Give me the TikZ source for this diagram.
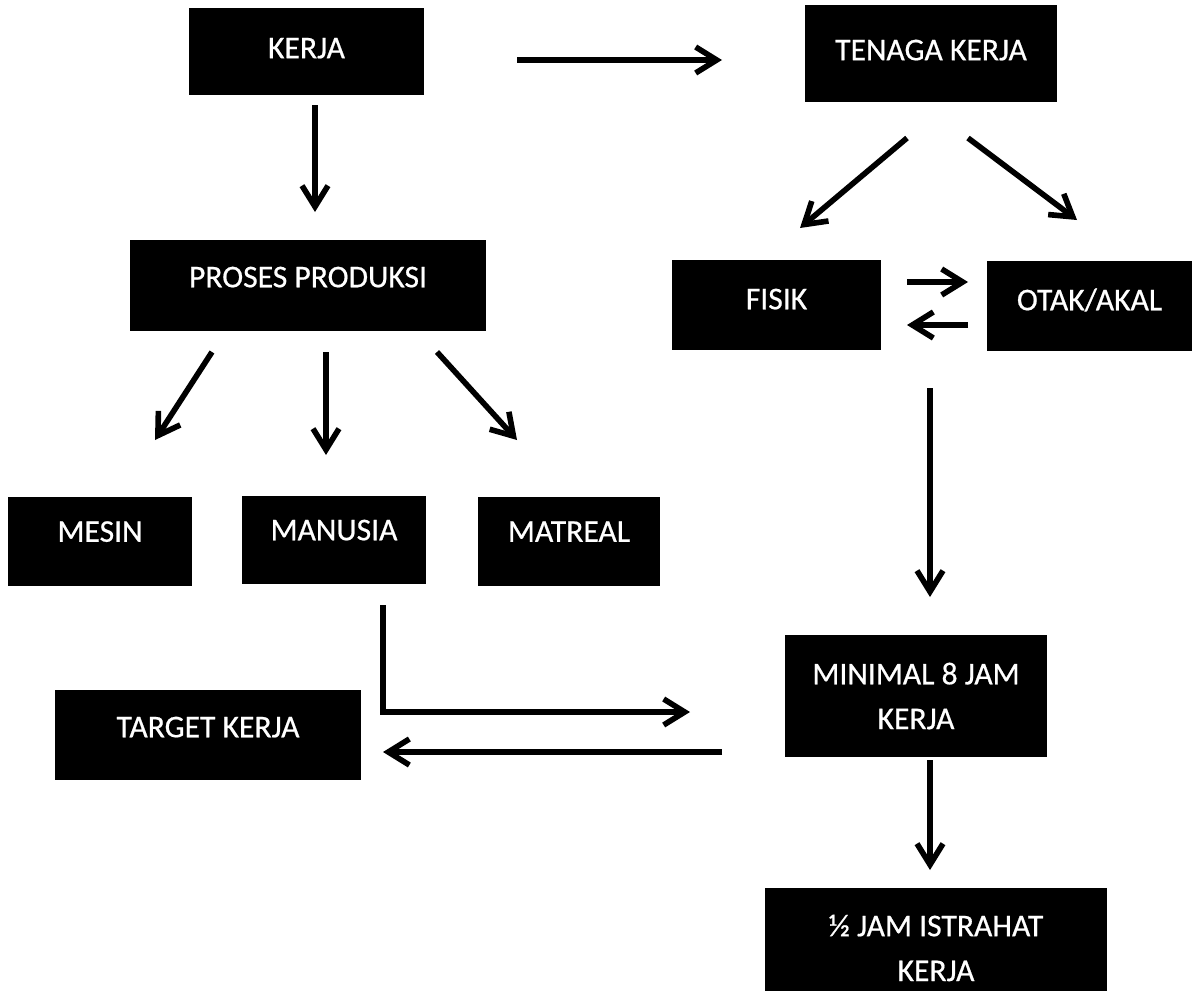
\documentclass[tikz,border=0pt]{standalone}
\usepackage{fontspec}
\setmainfont{Carlito}
\newfontface\boxfont{Carlito}[FakeBold=0.6]
\usetikzlibrary{arrows.meta}
\begin{document}
\begin{tikzpicture}[x=0.02cm,y=-0.02cm,
  box/.style={fill=black,text=white,inner sep=0pt,font=\boxfont\fontsize{18}{25.5}\selectfont},
  up/.style={text height=0.41cm,text depth=#1},
  arr/.style={line width=3.2pt,-{Straight Barb[length=0.42cm,width=0.52cm,line width=3.2pt]}}]
\clip (0,0) rectangle (1192,990);
\fill[white] (0,0) rectangle (1192,990);
% boxes
\node[box,up=0.14cm,minimum width=4.70cm,minimum height=1.74cm] (kerja) at (306.5,51.5) {KERJA};
\node[box,up=0.14cm,minimum width=5.04cm,minimum height=1.94cm] (tenaga) at (931,53.5) {TENAGA KERJA};
\node[box,up=0.34cm,minimum width=7.12cm,minimum height=1.82cm] (proses) at (308,285.5) {PROSES PRODUKSI};
\node[box,up=0.24cm,minimum width=4.18cm,minimum height=1.80cm] (fisik) at (776.5,305) {FISIK};
\node[box,up=0.24cm,minimum width=4.10cm,minimum height=1.80cm] (otak) at (1089.5,306) {OTAK/AKAL};
\node[box,up=0.40cm,minimum width=3.68cm,minimum height=1.78cm] (mesin) at (100,541.5) {MESIN};
\node[box,up=0.40cm,minimum width=3.68cm,minimum height=1.76cm] (manusia) at (334,540) {MANUSIA};
\node[box,up=0.40cm,minimum width=3.64cm,minimum height=1.78cm] (matreal) at (569,541.5) {MATREAL};
\node[box,up=0.32cm,minimum width=6.12cm,minimum height=1.80cm] (target) at (208,735) {TARGET KERJA};
\node[box,align=center,minimum width=5.24cm,minimum height=2.44cm] (minimal) at (916,696) {MINIMAL 8 JAM\\KERJA};
\node[box,align=center,minimum width=6.84cm,minimum height=2.40cm] (istirahat) at (936,948) {½ JAM ISTRAHAT\\KERJA};
% arrow end points
\coordinate (a1s) at (517,60);  \coordinate (a1e) at (722,60);
\coordinate (a2s) at (315,105); \coordinate (a2e) at (315,212);
\coordinate (a3s) at (212,352); \coordinate (a3e) at (155,440);
\coordinate (a4s) at (326,352); \coordinate (a4e) at (326,455);
\coordinate (a5s) at (437,352); \coordinate (a5e) at (517,440);
\coordinate (a6s) at (907,138); \coordinate (a6e) at (800,228);
\coordinate (a7s) at (968,138); \coordinate (a7e) at (1077,220);
\coordinate (a8s) at (907,282); \coordinate (a8e) at (968,282);
\coordinate (a9s) at (968,325); \coordinate (a9e) at (907,325);
\coordinate (a10s) at (930,388); \coordinate (a10e) at (930,597);
\coordinate (a11s) at (383,605); \coordinate (a11m) at (383,712); \coordinate (a11e) at (690,712);
\coordinate (a12s) at (722,752); \coordinate (a12e) at (383,752);
\coordinate (a13s) at (930,760); \coordinate (a13e) at (930,870);
% arrows
\draw[arr] (a1s) -- (a1e);
\draw[arr] (a2s) -- (a2e);
\draw[arr] (a3s) -- (a3e);
\draw[arr] (a4s) -- (a4e);
\draw[arr] (a5s) -- (a5e);
\draw[arr] (a6s) -- (a6e);
\draw[arr] (a7s) -- (a7e);
\draw[arr] (a8s) -- (a8e);
\draw[arr] (a9s) -- (a9e);
\draw[arr] (a10s) -- (a10e);
\draw[arr] (a11s) -- (a11m) -- (a11e);
\draw[arr] (a12s) -- (a12e);
\draw[arr] (a13s) -- (a13e);
\end{tikzpicture}
\end{document}
